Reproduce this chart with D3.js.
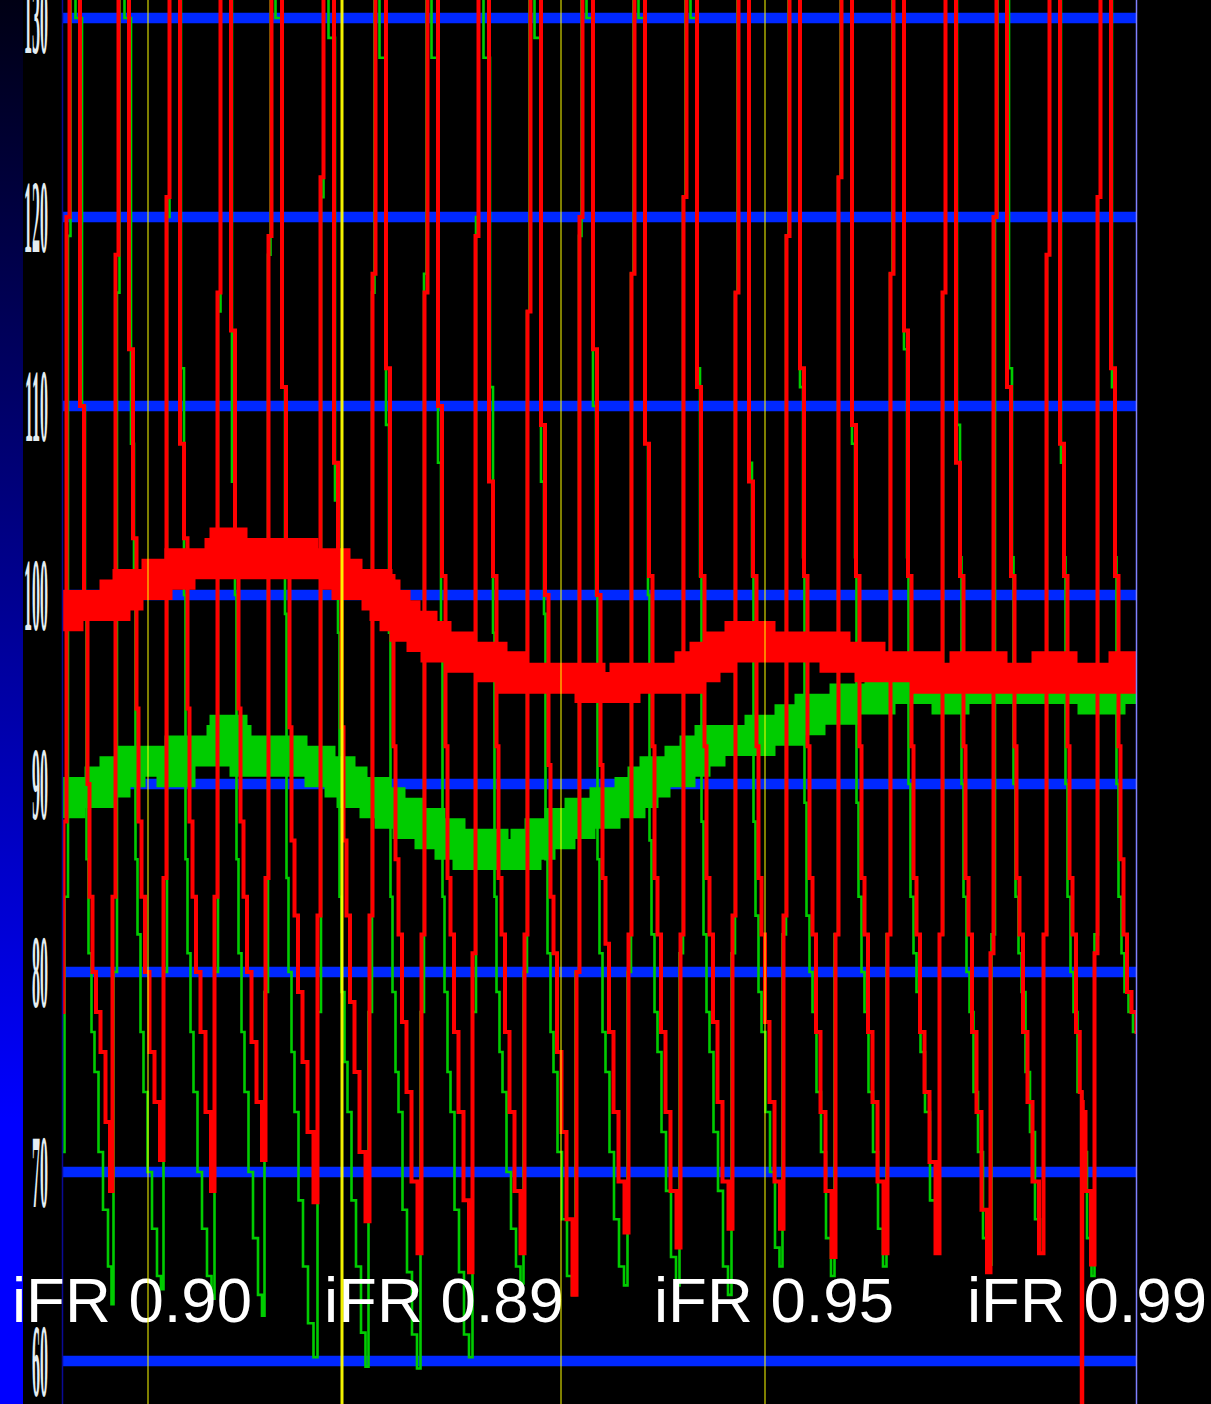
<!DOCTYPE html>
<html>
<head>
<meta charset="utf-8">
<script src="https://cdn.jsdelivr.net/npm/d3@7"></script>
<style>
  html, body { margin: 0; padding: 0; background: #000; }
  svg { display: block; }
</style>
</head>
<body>
<svg id="chart" width="1211" height="1404"></svg>
<script>
// ---- pressure axis (mmHg) ----
const pressureTicks = [60, 70, 80, 90, 100, 110, 120, 130];

// ---- aortic pressure Pa (red): beat troughs (s) and values at phase points after each trough ----
const paPhase = [0, 0.02, 0.12, 0.14, 0.32, 0.36, 0.48, 0.50, 0.56, 0.62, 0.70, 0.80, 0.90];
const paTroughTime = [0.02, 1.00, 2.02, 3.04, 4.06, 5.10, 6.14, 7.18, 8.20, 9.24, 10.28,
                      11.32, 12.36, 13.40, 14.42, 15.46, 16.50, 17.54, 18.56, 19.62, 20.64];
const paBeatValues = [
  [78.0, 88, 120, 149, 139, 110, 99, 90, 84, 80, 78, 76, 72.5],
  [69.0, 84, 118, 150, 140, 113, 103, 94, 88, 84, 80, 76, 73.5],
  [70.6, 85, 121, 151, 141, 108, 103, 94, 88, 84, 80, 77, 73],
  [69.0, 84, 116, 151, 141, 114, 103, 94, 88, 84, 80, 76.5, 73.5],
  [70.6, 85, 119, 151, 141, 111, 102, 93, 87, 83, 79, 75.5, 72],
  [68.4, 83, 122, 150, 140, 107, 102, 93, 87, 83, 78.5, 75, 71],
  [67.4, 83, 117, 149, 139, 112, 101, 92, 86, 82, 77.5, 74, 69.5],
  [65.7, 82, 116, 148, 137, 110, 101, 92, 85, 82, 77, 73, 68.5],
  [64.7, 81, 119, 148, 137, 106, 101, 92, 85, 82, 77, 73, 69],
  [65.7, 82, 115, 147, 136, 109, 100, 91, 84, 81, 76, 72, 67.5],
  [63.5, 80, 120, 147, 136, 113, 100, 91, 85, 81.5, 77, 73, 69.5],
  [66.8, 82, 117, 148, 137, 108, 101, 92, 85, 82, 77, 73, 69],
  [66.0, 82, 121, 148, 138, 111, 101, 92, 85, 82, 77.5, 73.5, 69.5],
  [67.0, 83, 116, 148, 138, 106, 101, 92, 85, 82, 77.5, 73.5, 69.5],
  [67.0, 83, 119, 148, 138, 112, 101, 92, 85, 82, 77, 73, 69],
  [65.5, 82, 122, 148, 138, 109, 101, 92, 85, 82, 77, 73.5, 69.5],
  [65.7, 82, 117, 148, 138, 114, 101, 92, 85, 82, 77, 74, 70.5],
  [65.7, 82, 116, 148, 138, 107, 101, 92, 85, 82, 77, 73, 68],
  [64.7, 81, 120, 148, 138, 111, 101, 92, 85, 82, 77, 73.5, 69.5],
  [65.7, 82, 118, 148, 138, 108, 101, 92, 85, 82, 77, 73, 69],
  [65.1, 81, 121, 148, 138, 112, 101, 92, 86, 82, 79, 78, 77]
];
// short catheter artefact on the Pa channel
const paArtifact = [[20.39, 74], [20.40, 55], [20.41, 73.5]];

// ---- distal pressure Pd (green) ----
const pdPhase = [0, 0.06, 0.14, 0.16, 0.34, 0.42, 0.46, 0.48, 0.54, 0.60, 0.66, 0.76, 0.84, 0.96];
const pdTroughTime = [0.02, 1.00, 2.00, 3.02, 4.02, 5.08, 6.10, 7.14, 8.18, 9.20, 10.24,
                      11.28, 12.32, 13.36, 14.38, 15.42, 16.46, 17.52, 18.56, 19.60, 20.62];
const pdBeatValues = [
  [71.0, 84, 119, 141, 130, 110, 100, 86, 81, 77, 75, 71, 68, 65],
  [63.0, 80, 116, 141, 130, 108, 100, 86, 82, 77, 74, 70, 67, 64.5],
  [63.8, 80, 120, 142, 131, 112, 100, 86, 81, 77, 74, 70, 67, 64.5],
  [63.3, 80, 115, 142, 131, 106, 100, 86, 81, 77, 74, 70, 66.5, 63.5],
  [62.4, 79, 118, 141, 130, 111, 99, 85, 80, 76, 73, 68.5, 65, 62],
  [60.2, 78, 121, 140, 129, 105, 98, 84, 79, 75.5, 73, 68.5, 65, 61.5],
  [59.7, 78, 116, 140, 128, 109, 98, 84, 79, 75, 73, 68, 64.7, 61.4],
  [59.6, 78, 117, 140, 128, 107, 98, 84, 79, 75, 73, 68, 64.7, 61.4],
  [60.2, 78, 120, 140, 128, 111, 98, 84, 79, 76, 74, 70, 67, 65],
  [64.1, 80, 115, 141, 129, 106, 99, 86, 81, 77, 75, 71, 67.5, 64.5],
  [63.5, 80, 119, 141, 130, 110, 100, 86, 81, 77, 75, 71, 67.5, 65],
  [64.0, 80, 117, 142, 130, 108, 100, 87, 82, 78, 76, 72, 69, 65.5],
  [64.0, 81, 121, 142, 130, 112, 101, 88, 82, 78, 76, 72, 69, 65],
  [63.5, 81, 116, 142, 131, 107, 101, 88, 83, 79, 77, 73, 70, 66],
  [65.0, 82, 119, 143, 131, 111, 102, 89, 83, 80, 78, 74, 71, 66.5],
  [64.5, 82, 122, 143, 131, 108, 102, 89, 84, 80, 78, 74, 71, 67],
  [65.0, 82, 117, 143, 131, 113, 102, 90, 84, 81, 79, 76, 73, 68.5],
  [65.7, 82, 116, 143, 131, 109, 102, 90, 84, 80, 78, 74, 71, 66.5],
  [65.1, 82, 120, 143, 131, 112, 102, 90, 84, 81, 79, 75, 72, 67.5],
  [65.7, 82, 118, 143, 131, 107, 102, 90, 84, 80, 78, 74, 71, 66.5],
  [64.5, 82, 121, 143, 131, 111, 102, 90, 84, 81, 79, 78, 77, 76]
];

// ---- running means (stepped) ----
const paMeanTime  = [0, 0.12, 1.06, 1.32, 1.90, 2.36, 3.16, 3.26, 3.40, 3.60, 4.20, 4.82, 5.46,
                     5.70, 6.30, 6.46, 6.66, 6.86, 7.20, 7.48, 7.98, 8.60, 9.00, 10.56, 11.26,
                     12.56, 12.86, 13.16, 13.56, 13.96, 15.46, 16.16, 17.30, 18.06, 18.60, 19.70,
                     20.00, 21.24, 21.48];
const paMeanValue = [98.9, 99.45, 100.0, 100.55, 101.1, 101.65, 102.2, 102.75, 102.2, 101.65, 102.2,
                     101.65, 101.1, 100.55, 100.0, 99.45, 98.9, 98.35, 97.8, 97.25, 96.7, 96.2,
                     95.6, 95.1, 95.6, 96.2, 96.7, 97.25, 97.8, 97.25, 96.7, 96.2, 95.6, 96.2,
                     95.6, 96.2, 95.6, 96.2, 96.2];

const pdMeanTime  = [0, 0.16, 0.76, 1.06, 1.36, 2.20, 2.36, 3.20, 3.26, 3.40, 3.48, 3.66, 4.20,
                     4.60, 5.16, 5.56, 5.80, 6.26, 6.56, 6.92, 7.36, 7.76, 8.12, 8.34, 8.62,
                     9.28, 9.56, 9.96, 10.36, 10.86, 11.36, 11.62, 11.86, 12.36, 12.66, 12.96,
                     13.96, 14.56, 14.96, 15.66, 16.36, 16.76, 16.88, 17.70, 17.84, 20.62,
                     20.96, 21.32, 21.48];
const pdMeanValue = [89.0, 89.55, 90.1, 90.65, 91.2, 90.65, 91.75, 92.3, 92.85, 92.3, 91.75, 91.2,
                     91.75, 91.2, 90.65, 90.1, 89.55, 89.0, 88.45, 87.9, 87.35, 86.8, 86.25,
                     86.8, 86.25, 86.8, 87.35, 87.9, 88.45, 89.0, 89.55, 90.1, 90.65, 91.2,
                     91.75, 92.3, 92.85, 93.4, 93.95, 94.5, 95.05, 95.6, 95.05, 94.5, 95.05,
                     94.5, 95.05, 95.6, 95.6];

// ---- time markers (s) and iFR results ----
const markerTimes = [1.72, 9.98, 14.06];
const cursorTimes = [5.60];
const ifrLabels = ["iFR 0.90", "iFR 0.89", "iFR 0.95", "iFR 0.99"];

// ---- layout ----
const W = 1211, H = 1404;
const plotLeft = 62, plotRight = 1136;
const labelX = [12, 324, 654, 967];
const labelBaseline = 1322;

const svg = d3.select("#chart");

const x = d3.scaleLinear().domain([0, 21.48]).range([plotLeft, plotRight]);
const y = d3.scaleLinear().domain(pressureTicks)
  .range([1361, 1172, 972, 784, 595, 406, 217, 18]);

const defs = svg.append("defs");
const grad = defs.append("linearGradient").attr("id", "sideGrad")
  .attr("x1", 0).attr("y1", 0).attr("x2", 0).attr("y2", 1);
grad.append("stop").attr("offset", 0).attr("stop-color", "#000014");
grad.append("stop").attr("offset", 0.8).attr("stop-color", "#0000ff");
grad.append("stop").attr("offset", 1).attr("stop-color", "#0000ff");

defs.append("clipPath").attr("id", "plotClip")
  .append("rect").attr("x", plotLeft).attr("y", 0)
  .attr("width", plotRight - plotLeft).attr("height", H);

// background
svg.append("rect").attr("width", W).attr("height", H).attr("fill", "#000");
svg.append("rect").attr("x", 0).attr("y", 0).attr("width", 23).attr("height", H)
  .attr("fill", "url(#sideGrad)");

// horizontal grid
svg.append("g").selectAll("line").data(pressureTicks).join("line")
  .attr("x1", plotLeft).attr("x2", plotRight)
  .attr("y1", d => y(d)).attr("y2", d => y(d))
  .attr("stroke", "#0028ff").attr("stroke-width", 10.5);

// stretched tick labels
svg.append("g").selectAll("text").data(pressureTicks).join("text")
  .attr("transform", d => `translate(48,${y(d)}) scale(1,6.5)`)
  .attr("text-anchor", "end").attr("dy", "0.34em")
  .attr("font-family", "'Liberation Serif', serif").attr("font-weight", "bold")
  .attr("font-size", 16).attr("fill", "#e4edf2")
  .text(d => d);

function beatPoints(troughs, phases, values) {
  return troughs.flatMap((t0, i) => phases.map((p, k) => [t0 + p, values[i][k]]));
}
const paPoints = beatPoints(paTroughTime, paPhase, paBeatValues)
  .concat(paArtifact).sort((a, b) => a[0] - b[0]);
const pdPoints = beatPoints(pdTroughTime, pdPhase, pdBeatValues)
  .sort((a, b) => a[0] - b[0]);

// the monitor paints each sample as a vertical step
const trace = d3.line().curve(d3.curveStep).x(d => x(d[0])).y(d => y(d[1]));
const stepLine = d3.line().curve(d3.curveStepAfter).x(d => x(d[0])).y(d => y(d[1]));

const plot = svg.append("g").attr("clip-path", "url(#plotClip)");

plot.append("path").datum(pdPoints).attr("d", trace)
  .attr("fill", "none").attr("stroke", "#00cc00").attr("stroke-width", 2.6)
  .attr("stroke-linejoin", "miter");

plot.append("path").datum(d3.zip(pdMeanTime, pdMeanValue)).attr("d", stepLine)
  .attr("fill", "none").attr("stroke", "#00cc00").attr("stroke-width", 31)
  .attr("stroke-linecap", "butt").attr("stroke-linejoin", "miter");

plot.append("path").datum(paPoints).attr("d", trace)
  .attr("fill", "none").attr("stroke", "#ff0000").attr("stroke-width", 4)
  .attr("stroke-linejoin", "miter");

plot.append("path").datum(d3.zip(paMeanTime, paMeanValue)).attr("d", stepLine)
  .attr("fill", "none").attr("stroke", "#ff0000").attr("stroke-width", 31)
  .attr("stroke-linecap", "butt").attr("stroke-linejoin", "miter");

// frame lines
svg.append("line").attr("x1", plotLeft + 0.5).attr("x2", plotLeft + 0.5)
  .attr("y1", 0).attr("y2", H).attr("stroke", "#0a0a96").attr("stroke-width", 1.5);
svg.append("line").attr("x1", plotRight + 0.5).attr("x2", plotRight + 0.5)
  .attr("y1", 0).attr("y2", H).attr("stroke", "#8080ff").attr("stroke-width", 1.5);

// iFR results
svg.append("g").selectAll("text").data(ifrLabels).join("text")
  .attr("x", (d, i) => labelX[i]).attr("y", labelBaseline)
  .attr("font-family", "'Liberation Sans', Arial, sans-serif")
  .attr("font-size", 63.5).attr("fill", "#ffffff")
  .text(d => d);

// time markers
svg.append("g").selectAll("line").data(markerTimes).join("line")
  .attr("x1", d => x(d)).attr("x2", d => x(d)).attr("y1", 0).attr("y2", H)
  .attr("stroke", "#ffff00").attr("stroke-opacity", 0.5).attr("stroke-width", 2);
svg.append("g").selectAll("line").data(cursorTimes).join("line")
  .attr("x1", d => x(d)).attr("x2", d => x(d)).attr("y1", 0).attr("y2", H)
  .attr("stroke", "#ffff00").attr("stroke-opacity", 0.95).attr("stroke-width", 3);
</script>
</body>
</html>
